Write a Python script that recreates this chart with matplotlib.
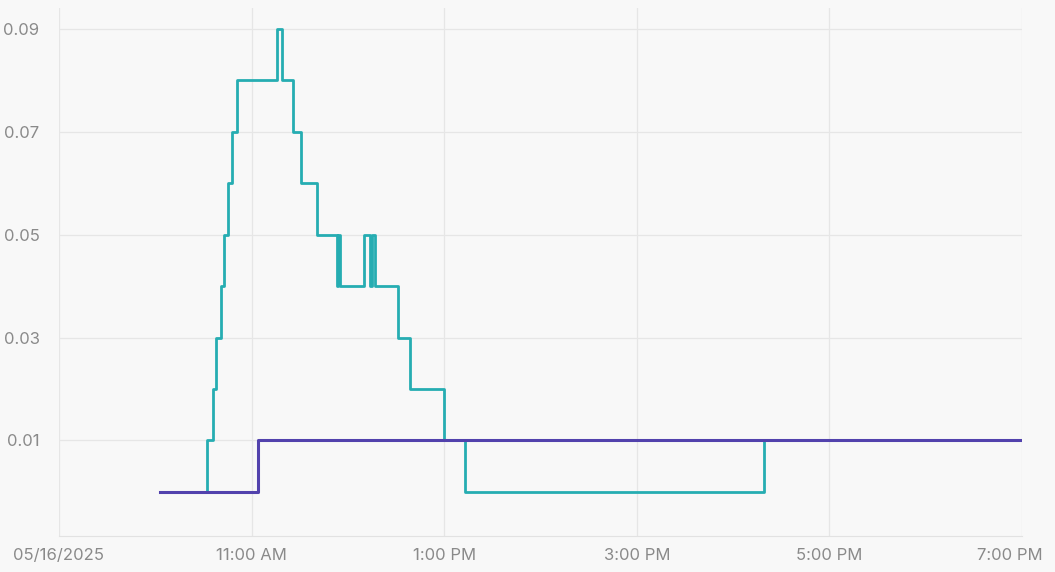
import matplotlib
matplotlib.use("Agg")
import matplotlib.pyplot as plt
import matplotlib.transforms as mtransforms
import pandas as pd

plt.rcParams['font.family'] = ['Inter', 'DejaVu Sans']

# step series (time, value), value holds until next time
teal_times = ["10:03", "10:32", "10:36", "10:38", "10:41", "10:43", "10:45", "10:48",
              "10:51", "11:16", "11:19", "11:26", "11:31", "11:41", "11:53", "11:54",
              "11:55", "12:10", "12:14", "12:15", "12:17", "12:31", "12:39", "13:00",
              "13:13", "16:19", "19:00"]
teal_values = [0.00, 0.01, 0.02, 0.03, 0.04, 0.05, 0.06, 0.07,
               0.08, 0.09, 0.08, 0.07, 0.06, 0.05, 0.04, 0.05,
               0.04, 0.05, 0.04, 0.05, 0.04, 0.03, 0.02, 0.01,
               0.00, 0.01, 0.01]

purple_times = ["10:03", "11:04", "19:00"]
purple_values = [0.00, 0.01, 0.01]

tick_times = ["09:00", "11:00", "13:00", "15:00", "17:00", "19:00"]
tick_labels = ["05/16/2025", "11:00 AM", "1:00 PM", "3:00 PM", "5:00 PM", "7:00 PM"]
y_ticks = [0.01, 0.03, 0.05, 0.07, 0.09]


def to_dt(ts):
    return pd.to_datetime(["2025-05-16 " + t for t in ts])


bg = "#f8f8f8"
fig = plt.figure(figsize=(10.55, 5.72), dpi=100, facecolor=bg)
ax = fig.add_axes([59 / 1055, 36 / 572, 963 / 1055, 528 / 572], facecolor=bg)

ax.step(to_dt(teal_times), teal_values, where="post", color="#26adb2", lw=2.0, zorder=3)
ax.step(to_dt(purple_times), purple_values, where="post", color="#5242ad", lw=2.2, zorder=4)

ax.set_xlim(to_dt(["09:00"])[0], to_dt(["19:00"])[0])
ax.set_ylim(-0.0086, 0.0941)

ax.set_xticks(to_dt(tick_times))
ax.set_xticklabels(tick_labels)
ax.set_yticks(y_ticks)
ax.set_yticklabels([f"{v:.2f}" for v in y_ticks])

ax.grid(True, color="#e6e6e6", lw=0.9)
ax.set_axisbelow(True)
for s in ["top", "right", "left"]:
    ax.spines[s].set_visible(False)
ax.spines["bottom"].set_color("#e2e2e2")
ax.tick_params(axis="both", length=0, labelsize=12, colors="#8a8a8a")
ax.tick_params(axis="x", pad=9)
ax.tick_params(axis="y", pad=14)

# pull the last x label inside the figure
last = ax.get_xticklabels()[-1]
last.set_transform(last.get_transform() + mtransforms.ScaledTranslation(-12 / 100, 0, fig.dpi_scale_trans))

fig.savefig("out.png", dpi=100, facecolor=bg)
